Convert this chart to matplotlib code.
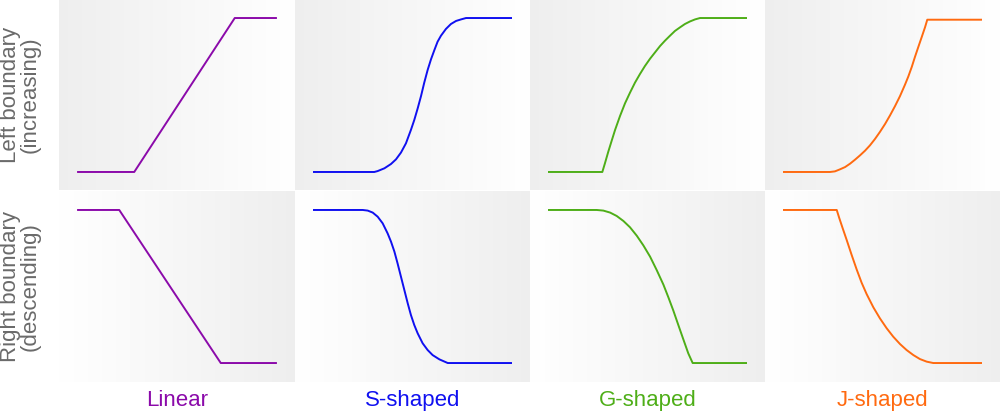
import numpy as np
import matplotlib
matplotlib.use("Agg")
import matplotlib.pyplot as plt

plt.rcParams['font.family'] = ['Liberation Sans', 'DejaVu Sans']

# x runs 0..100 across the drawn curve, y is 0 (low) .. 1 (high)
shape_names = ["Linear", "S-shaped", "G-shaped", "J-shaped"]
shape_colors = ["#8B0AAA", "#1010F0", "#4EAE18", "#FF6A10"]
row_labels = ["Left boundary\n(increasing)", "Right boundary\n(descending)"]

# top row: increasing curves
lin_up_x = [0, 28.6, 78.9, 100]
lin_up_y = [0, 0, 1, 1]

s_up_x = [0, 30.8, 32.5, 35.9, 39.2, 41.7, 44.2, 46.7, 49.2, 50.9, 52.6, 54.3, 55.9, 57.6,
          59.3, 61.0, 62.6, 64.3, 66.8, 69.3, 71.9, 74.4, 76.9, 100]
s_up_y = [0, 0, 0.006, 0.024, 0.052, 0.082, 0.126, 0.186, 0.273, 0.338, 0.413, 0.494, 0.580, 0.662,
          0.732, 0.792, 0.846, 0.885, 0.929, 0.961, 0.981, 0.991, 1, 1]

g_up_x = [0, 27.3, 28.6, 30.3, 32.0, 33.7, 36.2, 38.7, 41.2, 43.7, 46.2, 48.7, 51.3, 53.8,
          56.3, 58.8, 61.3, 63.8, 66.3, 68.8, 71.4, 73.9, 76.4, 100]
g_up_y = [0, 0, 0.056, 0.132, 0.203, 0.273, 0.364, 0.446, 0.515, 0.580, 0.636, 0.688, 0.736, 0.777,
          0.818, 0.853, 0.885, 0.916, 0.939, 0.961, 0.978, 0.991, 1, 1]

j_up_x = [0, 23.6, 26.1, 28.6, 31.2, 33.7, 36.2, 38.7, 41.2, 43.7, 46.2, 48.7, 51.3, 53.8,
          56.3, 58.8, 61.3, 63.0, 64.7, 66.3, 68.0, 69.7, 71.4, 72.5, 100]
j_up_y = [0, 0, 0.004, 0.017, 0.032, 0.054, 0.080, 0.108, 0.138, 0.173, 0.214, 0.260, 0.312, 0.368,
          0.428, 0.493, 0.567, 0.621, 0.682, 0.747, 0.812, 0.876, 0.941, 0.989, 0.989]

# bottom row: descending curves
lin_dn_x = [0, 21.1, 71.9, 100]
lin_dn_y = [1, 1, 0, 0]

s_dn_x = [0, 25.0, 27.5, 30.0, 32.5, 35.0, 37.5, 39.2, 40.9, 42.5, 44.2, 45.9, 47.6, 49.2,
          50.9, 52.6, 55.1, 57.6, 60.1, 63.5, 67.7, 100]
s_dn_y = [1, 1, 0.996, 0.983, 0.956, 0.913, 0.847, 0.793, 0.728, 0.651, 0.564, 0.477, 0.390, 0.314,
          0.248, 0.194, 0.129, 0.085, 0.052, 0.024, 0, 0]

g_dn_x = [0, 24.5, 27.8, 31.2, 34.5, 37.9, 41.2, 44.6, 47.9, 51.3, 54.6, 58.0, 60.5, 63.0,
          65.5, 68.0, 70.5, 72.7, 100]
g_dn_y = [1, 1, 0.996, 0.983, 0.961, 0.928, 0.887, 0.832, 0.769, 0.695, 0.608, 0.512, 0.429, 0.342,
          0.248, 0.155, 0.063, 0, 0]

j_dn_x = [0, 27.0, 28.3, 30.0, 32.0, 34.5, 37.0, 39.5, 42.0, 45.4, 48.7, 52.1, 55.4, 58.8,
          62.1, 65.5, 68.8, 72.2, 75.5, 100]
j_dn_y = [1, 1, 0.946, 0.880, 0.804, 0.706, 0.612, 0.525, 0.451, 0.364, 0.292, 0.227, 0.172, 0.124,
          0.085, 0.052, 0.026, 0.009, 0, 0]

curves = [
    [(lin_up_x, lin_up_y), (s_up_x, s_up_y), (g_up_x, g_up_y), (j_up_x, j_up_y)],
    [(lin_dn_x, lin_dn_y), (s_dn_x, s_dn_y), (g_dn_x, g_dn_y), (j_dn_x, j_dn_y)],
]

W, H = 1000, 411
fig = plt.figure(figsize=(W / 100, H / 100), dpi=100)

col_left = [59, 295, 530, 765]
col_w = [236, 235, 235, 235]
row_top = [0, 191]
row_h = [190, 191]
row_ylim = [(-0.117, 1.117), (-0.124, 1.124)]
xlim = (-9.05, 109.05)

# gradient: gray -> white for top row, white -> gray for bottom row
ramp = np.linspace(0.935, 1.0, 256)
grads = [ramp, ramp[::-1]]

for r in range(2):
    for c in range(4):
        ax = fig.add_axes([col_left[c] / W, 1 - (row_top[r] + row_h[r]) / H,
                           col_w[c] / W, row_h[r] / H])
        g = np.repeat(grads[r][None, :, None], 3, axis=2)
        ax.imshow(g, aspect='auto', extent=(xlim[0], xlim[1], row_ylim[r][0], row_ylim[r][1]),
                  zorder=0, interpolation='bilinear')
        x, y = curves[r][c]
        ax.plot(x, y, color=shape_colors[c], lw=1.4, zorder=2,
                solid_capstyle='butt', solid_joinstyle='round')
        ax.set_xlim(*xlim)
        ax.set_ylim(*row_ylim[r])
        ax.axis('off')

for r in range(2):
    yc = 1 - (row_top[r] + row_h[r] / 2) / H
    fig.text(20.5 / W, yc, row_labels[r], rotation=90, ha='center', va='center',
             fontsize=16, color='#6a6a6a', linespacing=0.92)

for c in range(4):
    xc = (col_left[c] + col_w[c] / 2) / W
    fig.text(xc, 1 - 400 / H, shape_names[c], ha='center', va='center',
             fontsize=16, color=shape_colors[c])

fig.savefig("out.png", dpi=100)
